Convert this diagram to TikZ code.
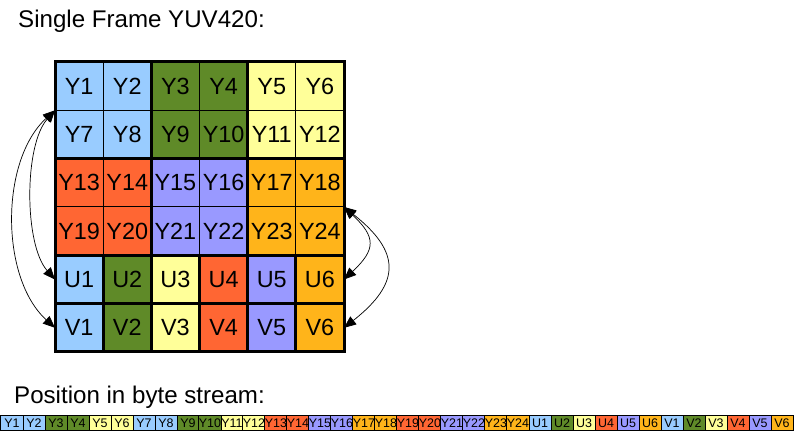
\documentclass[tikz,border=0pt]{standalone}
\usepackage{fontspec}
\setmainfont{Liberation Sans}
\usetikzlibrary{arrows.meta}
\definecolor{cblue}{HTML}{99CCFF}
\definecolor{cgreen}{HTML}{5F8A28}
\definecolor{cyellow}{HTML}{FFFF99}
\definecolor{cred}{HTML}{FF6633}
\definecolor{cpurple}{HTML}{9999FF}
\definecolor{corange}{HTML}{FFB41A}
\tikzset{
  cell/.style={draw=black, line width=1bp, inner sep=0pt, outer sep=0pt,
    minimum width=48.17bp, minimum height=48.33bp,
    font=\fontsize{23.5}{23.5}\selectfont},
  bytecell/.style={draw=black, line width=1bp, inner sep=0pt, outer sep=0pt,
    minimum width=22bp, minimum height=15bp,
    font=\fontsize{12.5}{12.5}\selectfont},
  heavy/.style={line width=3bp, line cap=rect},
  conn/.style={line width=0.7bp, {Triangle[length=12bp,width=10bp]}-{Triangle[length=12bp,width=10bp]}},
  title/.style={anchor=base west, inner sep=0pt, font=\fontsize{24.2}{24.2}\selectfont}
}
\begin{document}
\begin{tikzpicture}[x=1bp,y=-1bp]
\useasboundingbox (0,0) rectangle (794,434);
\def\celllist{Y1/cblue,Y2/cblue,Y3/cgreen,Y4/cgreen,Y5/cyellow,Y6/cyellow,
Y7/cblue,Y8/cblue,Y9/cgreen,Y10/cgreen,Y11/cyellow,Y12/cyellow,
Y13/cred,Y14/cred,Y15/cpurple,Y16/cpurple,Y17/corange,Y18/corange,
Y19/cred,Y20/cred,Y21/cpurple,Y22/cpurple,Y23/corange,Y24/corange,
U1/cblue,U2/cgreen,U3/cyellow,U4/cred,U5/cpurple,U6/corange,
V1/cblue,V2/cgreen,V3/cyellow,V4/cred,V5/cpurple,V6/corange}
\node[title] (t1) at (18,28) {Single Frame YUV420:};
\node[title] (t2) at (14,403) {Position in byte stream:};
\foreach \lab/\col [count=\i from 0] in \celllist {
  \pgfmathtruncatemacro\r{\i/6}
  \pgfmathtruncatemacro\c{mod(\i,6)}
  \node[cell, fill=\col] (g\lab) at ({55+48.17*(\c+0.5)},{62+48.33*(\r+0.5)}) {\lab};
  \node[bytecell, fill=\col] (s\lab) at ({1+22*(\i+0.5)},423) {\lab};
}
% heavy block borders
\draw[heavy] (gY1.north west) rectangle (gV6.south east);
\draw[heavy] (gY3.north west) -- (gV3.south west);
\draw[heavy] (gY5.north west) -- (gV5.south west);
\draw[heavy] (gY13.north west) -- (gY18.north east);
\draw[heavy] (gU1.north west) -- (gU6.north east);
\draw[heavy] (gV1.north west) -- (gV6.north east);
\draw[heavy] (gU2.north west) -- (gV2.south west);
\draw[heavy] (gU4.north west) -- (gV4.south west);
\draw[heavy] (gU6.north west) -- (gV6.south west);
% connectors
\draw[conn] (gY7.north west) .. controls +(-31,35) and +(-31,-35) .. (gU1.west);
\draw[conn] (gY7.north west) .. controls +(-55,50) and +(-55,-50) .. (gV1.west);
\draw[conn] (gY24.north east) .. controls +(32,30) and +(32,-30) .. (gU6.east);
\draw[conn] (gY24.north east) .. controls +(57,45) and +(57,-45) .. (gV6.east);
\end{tikzpicture}
\end{document}
